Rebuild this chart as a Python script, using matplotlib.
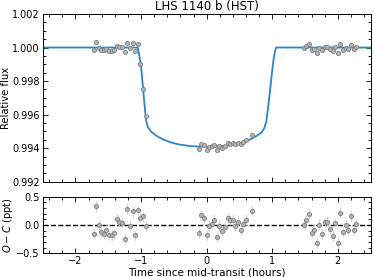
import matplotlib
matplotlib.use("Agg")
import matplotlib.pyplot as plt
from matplotlib.ticker import AutoMinorLocator, MultipleLocator

# transit model (time in hours, relative flux)
model_t = [-2.5, -1.05, -1.03, -1.00, -0.97, -0.94, -0.92, -0.90, -0.87, -0.83,
           -0.76, -0.68, -0.55, -0.43, -0.30, -0.15, 0.0, 0.15, 0.30, 0.43,
           0.55, 0.68, 0.77, 0.84, 0.88, 0.91, 0.93, 0.96, 0.99, 1.02, 1.05,
           1.06, 2.5]
model_f = [1.0, 1.0, 0.9996, 0.9989, 0.9976, 0.9963, 0.9956, 0.9953, 0.9951, 0.99493,
           0.99472, 0.99455, 0.99435, 0.99423, 0.99415, 0.99410, 0.99408, 0.99410, 0.99415, 0.99423,
           0.99435, 0.99455, 0.99475, 0.99495, 0.99520, 0.99560, 0.99620, 0.99720, 0.99830, 0.99930, 0.99990,
           1.0, 1.0]

# HST visit, three orbits
t_orb1 = [-1.72, -1.68, -1.645, -1.61, -1.57, -1.53, -1.49, -1.45, -1.41, -1.37, -1.33,
          -1.29, -1.25, -1.21, -1.17, -1.13, -1.09, -1.05, -1.01, -0.97, -0.93]
f_orb1 = [0.99984, 1.00034, 1.00000, 0.99987, 0.99984, 0.99991, 0.99982, 0.99982, 0.99985, 1.00011, 1.00005,
          1.00004, 0.99975, 1.00029, 0.99999, 1.00025, 0.99982, 1.00020, 0.99900, 0.99755, 0.99593]
r_orb1 = [-0.16, 0.34, 0.00, -0.13, -0.16, -0.09, -0.18, -0.18, -0.15, 0.11, 0.05,
          0.04, -0.25, 0.29, -0.01, 0.25, -0.18, 0.26, 0.12, 0.15, -0.02]

t_orb2 = [-0.12, -0.08, -0.04, 0.0, 0.035, 0.075, 0.115, 0.155, 0.195, 0.24,
          0.28, 0.32, 0.36, 0.40, 0.44, 0.48, 0.52, 0.56, 0.60, 0.69]
f_orb2 = [0.99396, 0.99427, 0.99421, 0.99390, 0.99407, 0.99411, 0.99418, 0.99389, 0.99410, 0.99402,
          0.99410, 0.99428, 0.99427, 0.99430, 0.99422, 0.99433, 0.99422, 0.99437, 0.99451, 0.99481]
r_orb2 = [-0.14, 0.18, 0.13, -0.18, -0.01, 0.02, 0.08, -0.21, -0.01, -0.11,
          -0.04, 0.12, 0.09, 0.09, -0.02, 0.06, -0.09, 0.01, 0.09, 0.24]

t_orb3 = [1.48, 1.52, 1.56, 1.60, 1.64, 1.68, 1.72, 1.76, 1.80, 1.84, 1.88,
          1.92, 1.96, 2.00, 2.04, 2.08, 2.12, 2.16, 2.20, 2.24, 2.28]
f_orb3 = [1.00000, 1.00008, 1.00019, 0.99986, 0.99992, 0.99969, 1.00000, 0.99984, 1.00005, 1.00006, 0.99993,
          0.99981, 1.00004, 0.99968, 1.00022, 0.99987, 1.00000, 0.99992, 1.00015, 0.99992, 1.00001]
r_orb3 = [0.00, 0.08, 0.19, -0.14, -0.08, -0.31, 0.00, -0.16, 0.05, 0.06, -0.07,
          -0.19, 0.035, -0.32, 0.22, -0.13, 0.00, -0.08, 0.15, -0.08, 0.01]

res_err = 0.09  # ppt

t_all = t_orb1 + t_orb2 + t_orb3
f_all = f_orb1 + f_orb2 + f_orb3
r_all = r_orb1 + r_orb2 + r_orb3

line_col = "#2a86c8"
pt_face = "#b4b4b4"
pt_edge = "#808080"

fig = plt.figure(figsize=(3.74, 2.77), dpi=100)
ax1 = fig.add_axes([0.114, 0.344, 0.877, 0.6055])
ax2 = fig.add_axes([0.114, 0.0855, 0.877, 0.2045])

ax1.plot(model_t, model_f, color=line_col, lw=1.3, zorder=2)
ax1.plot(t_all, f_all, "o", ms=3.0, mfc=pt_face, mec=pt_edge, mew=0.6, zorder=3)
ax1.set_xlim(-2.5, 2.5)
ax1.set_ylim(0.992, 1.002)
ax1.yaxis.set_major_locator(MultipleLocator(0.002))
ax1.yaxis.set_major_formatter(plt.FormatStrFormatter("%.3f"))
ax1.set_ylabel("Relative flux", fontsize=7.2, labelpad=1)
ax1.set_title("LHS 1140 b (HST)", fontsize=8.5, pad=3)
ax1.tick_params(labelbottom=False)

ax2.errorbar(t_all, r_all, yerr=res_err, fmt="o", ms=3.0, mfc=pt_face, mec=pt_edge,
             mew=0.6, ecolor="#d2d2d2", elinewidth=1.0, capsize=0, zorder=3)
ax2.axhline(0, color="black", ls="--", lw=1.0, zorder=2)
ax2.set_xlim(-2.5, 2.5)
ax2.set_ylim(-0.5, 0.5)
ax2.yaxis.set_major_locator(MultipleLocator(0.5))
ax2.set_ylabel("$O - C$ (ppt)", fontsize=7.2, labelpad=1)
ax2.set_xlabel("Time since mid-transit (hours)", fontsize=7.5, labelpad=1)

for ax in (ax1, ax2):
    ax.xaxis.set_major_locator(MultipleLocator(1))
    ax.xaxis.set_minor_locator(AutoMinorLocator())
    ax.yaxis.set_minor_locator(AutoMinorLocator())
    ax.tick_params(which="both", direction="in", top=True, right=True, labelsize=7, width=0.6)
    ax.tick_params(which="major", length=3.5, pad=2)
    ax.tick_params(which="minor", length=2)
    for s in ax.spines.values():
        s.set_linewidth(0.7)

fig.savefig("out.png", dpi=100)
